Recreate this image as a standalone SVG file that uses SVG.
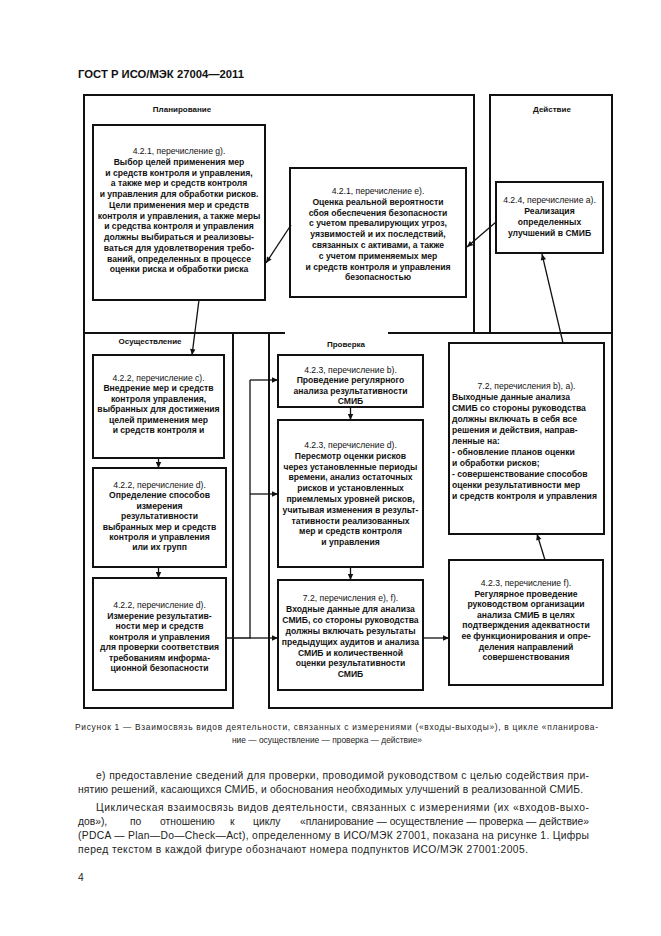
<svg xmlns="http://www.w3.org/2000/svg" width="661" height="936" viewBox="0 0 661 936">
<defs>
<style>
.fr{fill:none;stroke:#111;stroke-width:2}
.bx{fill:#fff;stroke:#111;stroke-width:2}
.t{font-family:"Liberation Sans",Arial,sans-serif;font-size:8.6px;font-weight:bold;fill:#111;text-anchor:middle}
.n{font-weight:normal}
.l{text-anchor:start}
.lbl{font-family:"Liberation Sans",Arial,sans-serif;font-size:8px;font-weight:bold;fill:#111;text-anchor:middle}
.c{stroke:#111;stroke-width:1.3;fill:none}
.a{marker-end:url(#ah)}
.body{font-family:"Liberation Sans",Arial,sans-serif;font-size:10.3px;fill:#222}
.cap{font-family:"Liberation Sans",Arial,sans-serif;font-size:8.4px;fill:#222}
</style>
<marker id="ah" viewBox="0 0 10 10" refX="10" refY="5" markerWidth="7" markerHeight="6" markerUnits="userSpaceOnUse" orient="auto"><path d="M0,0.5 L10,5 L0,9.5 z" fill="#111"/></marker>
</defs>
<rect width="661" height="936" fill="#fff"/>
<text x="78" y="78" font-family="Liberation Sans,Arial,sans-serif" font-size="10.5" font-weight="bold" fill="#111" textLength="166" lengthAdjust="spacingAndGlyphs">ГОСТ Р ИСО/МЭК 27004—2011</text>

<g id="frame-plan">
<path class="fr" d="M84,333 V95 H474 V333 M84,333 H285 M388,333 H474"/>
<text class="lbl" x="182" y="112">Планирование</text>
</g>
<g id="frame-act">
<path class="fr" d="M490,333 V95 H612 V333 M474,333 H612"/>
<text class="lbl" x="552" y="112">Действие</text>
</g>
<g id="frame-do">
<path class="fr" d="M84,333 V708 H233 V333"/>
<text class="lbl" x="150" y="344">Осуществление</text>
</g>
<g id="frame-check">
<path class="fr" d="M269,333 V708 H612 V333"/>
<text class="lbl" x="346" y="347">Проверка</text>
</g>

<g id="plan-g">
<rect class="bx" x="93" y="125" width="172" height="175"/>
<text class="t" x="179" y="154"><tspan class="n">4.2.1, перечисление g).</tspan><tspan x="179" dy="10.75">Выбор целей применения мер</tspan><tspan x="179" dy="10.75">и средств контроля и управления,</tspan><tspan x="179" dy="10.75">а также мер и средств контроля</tspan><tspan x="179" dy="10.75">и управления для обработки рисков.</tspan><tspan x="179" dy="10.75">Цели применения мер и средств</tspan><tspan x="179" dy="10.75">контроля и управления, а также меры</tspan><tspan x="179" dy="10.75">и средства контроля и управления</tspan><tspan x="179" dy="10.75">должны выбираться и реализовы-</tspan><tspan x="179" dy="10.75">ваться для удовлетворения требо-</tspan><tspan x="179" dy="10.75">ваний, определенных в процессе</tspan><tspan x="179" dy="10.75">оценки риска и обработки риска</tspan></text>
</g>

<g id="plan-e">
<rect class="bx" x="290" y="168" width="176" height="129"/>
<text class="t" x="378" y="194"><tspan class="n">4.2.1, перечисление e).</tspan><tspan x="378" dy="10.8">Оценка реальной вероятности</tspan><tspan x="378" dy="10.8">сбоя обеспечения безопасности</tspan><tspan x="378" dy="10.8">с учетом превалирующих угроз,</tspan><tspan x="378" dy="10.8">уязвимостей и их последствий,</tspan><tspan x="378" dy="10.8">связанных с активами, а также</tspan><tspan x="378" dy="10.8">с учетом применяемых мер</tspan><tspan x="378" dy="10.8">и средств контроля и управления</tspan><tspan x="378" dy="10.8">безопасностью</tspan></text>
</g>

<g id="act-a">
<rect class="bx" x="496" y="182" width="107" height="71"/>
<text class="t" x="549.5" y="203"><tspan class="n">4.2.4, перечисление а).</tspan><tspan x="549.5" dy="11">Реализация</tspan><tspan x="549.5" dy="11">определенных</tspan><tspan x="549.5" dy="11">улучшений в СМИБ</tspan></text>
</g>

<g id="do-c">
<rect class="bx" x="93" y="355" width="131" height="103"/>
<text class="t" x="158.5" y="381"><tspan class="n">4.2.2, перечисление c).</tspan><tspan x="158.5" dy="10.4">Внедрение мер и средств</tspan><tspan x="158.5" dy="10.4">контроля управления,</tspan><tspan x="158.5" dy="10.4">выбранных для достижения</tspan><tspan x="158.5" dy="10.4">целей применения мер</tspan><tspan x="158.5" dy="10.4">и средств контроля и</tspan></text>
</g>

<g id="do-d1">
<rect class="bx" x="93" y="468" width="133" height="99"/>
<text class="t" x="159.5" y="488"><tspan class="n">4.2.2, перечисление d).</tspan><tspan x="159.5" dy="10.4">Определение способов</tspan><tspan x="159.5" dy="10.4">измерения</tspan><tspan x="159.5" dy="10.4">результативности</tspan><tspan x="159.5" dy="10.4">выбранных мер и средств</tspan><tspan x="159.5" dy="10.4">контроля и управления</tspan><tspan x="159.5" dy="10.4">или их групп</tspan></text>
</g>

<g id="do-d2">
<rect class="bx" x="93" y="578" width="133" height="112"/>
<text class="t" x="159.5" y="608"><tspan class="n">4.2.2, перечисление d).</tspan><tspan x="159.5" dy="10.5">Измерение результатив-</tspan><tspan x="159.5" dy="10.5">ности мер и средств</tspan><tspan x="159.5" dy="10.5">контроля и управления</tspan><tspan x="159.5" dy="10.5">для проверки соответствия</tspan><tspan x="159.5" dy="10.5">требованиям информа-</tspan><tspan x="159.5" dy="10.5">ционной безопасности</tspan></text>
</g>

<g id="check-b">
<rect class="bx" x="278" y="355" width="145" height="52"/>
<text class="t" x="350.5" y="373"><tspan class="n">4.2.3, перечисление b).</tspan><tspan x="350.5" dy="10.3">Проведение регулярного</tspan><tspan x="350.5" dy="10.3">анализа результативности</tspan><tspan x="350.5" dy="10.3">СМИБ</tspan></text>
</g>

<g id="check-d">
<rect class="bx" x="278" y="420" width="145" height="147"/>
<text class="t" x="350.5" y="448"><tspan class="n">4.2.3, перечисление d).</tspan><tspan x="350.5" dy="10.8">Пересмотр оценки рисков</tspan><tspan x="350.5" dy="10.8">через установленные периоды</tspan><tspan x="350.5" dy="10.8">времени, анализ остаточных</tspan><tspan x="350.5" dy="10.8">рисков и установленных</tspan><tspan x="350.5" dy="10.8">приемлемых уровней рисков,</tspan><tspan x="350.5" dy="10.8">учитывая изменения в результ-</tspan><tspan x="350.5" dy="10.8">тативности реализованных</tspan><tspan x="350.5" dy="10.8">мер и средств контроля</tspan><tspan x="350.5" dy="10.8">и управления</tspan></text>
</g>

<g id="check-ef">
<rect class="bx" x="278" y="580" width="145" height="110"/>
<text class="t" x="350.5" y="601"><tspan class="n">7.2, перечисления e), f).</tspan><tspan x="350.5" dy="10.9">Входные данные для анализа</tspan><tspan x="350.5" dy="10.9">СМИБ, со стороны руководства</tspan><tspan x="350.5" dy="10.9">должны включать результаты</tspan><tspan x="350.5" dy="10.9">предыдущих аудитов и анализа</tspan><tspan x="350.5" dy="10.9">СМИБ и количественной</tspan><tspan x="350.5" dy="10.9">оценки результативности</tspan><tspan x="350.5" dy="10.9">СМИБ</tspan></text>
</g>

<g id="check-ba">
<rect class="bx" x="449" y="343" width="155" height="191"/>
<text class="t l" x="452" y="389"><tspan class="n" x="526.5" style="text-anchor:middle">7.2, перечисления b), a).</tspan><tspan x="452" dy="11">Выходные данные анализа</tspan><tspan x="452" dy="11">СМИБ со стороны руководства</tspan><tspan x="452" dy="11">должны включать в себя все</tspan><tspan x="452" dy="11">решения и действия, направ-</tspan><tspan x="452" dy="11">ленные на:</tspan><tspan x="452" dy="11">- обновление планов оценки</tspan><tspan x="452" dy="11">и обработки рисков;</tspan><tspan x="452" dy="11">- совершенствование способов</tspan><tspan x="452" dy="11">оценки результативности мер</tspan><tspan x="452" dy="11">и средств контроля и управления</tspan></text>
</g>

<g id="check-f">
<rect class="bx" x="449" y="560" width="154" height="125"/>
<text class="t" x="526" y="586"><tspan class="n">4.2.3, перечисление f).</tspan><tspan x="526" dy="10.6">Регулярное проведение</tspan><tspan x="526" dy="10.6">руководством организации</tspan><tspan x="526" dy="10.6">анализа СМИБ в целях</tspan><tspan x="526" dy="10.6">подтверждения адекватности</tspan><tspan x="526" dy="10.6">ее функционирования и опре-</tspan><tspan x="526" dy="10.6">деления направлений</tspan><tspan x="526" dy="10.6">совершенствования</tspan></text>
</g>

<g id="connectors">
<path class="c a" d="M199,300 L192,355"/>
<path class="c a" d="M291,225 L266,263"/>
<path class="c a" d="M496,222 L467,247"/>
<path class="c a" d="M563,343 L542,254"/>
<path class="c a" d="M158.5,458 V468"/>
<path class="c a" d="M158.5,567 V578"/>
<path class="c" d="M226,638 H250 V380"/>
<path class="c a" d="M250,380 H278"/>
<path class="c a" d="M250,494 H278"/>
<path class="c a" d="M250,638 H278"/>
<path class="c a" d="M350.5,407 V420"/>
<path class="c a" d="M350.5,567 V580"/>
<path class="c a" d="M423,638 H449"/>
<path class="c a" d="M545,560 L537,534"/>
</g>

<text class="cap" x="75" y="730" textLength="523" lengthAdjust="spacing">Рисунок  1 — Взаимосвязь видов деятельности, связанных с измерениями («входы-выходы»), в цикле «планирова-</text>
<text class="cap" x="327" y="743" text-anchor="middle">ние — осуществление — проверка — действие»</text>

<text class="body" x="96" y="779" textLength="493" lengthAdjust="spacing">е)  предоставление сведений для проверки, проводимой руководством с целью содействия при-</text>
<text class="body" x="78" y="793" textLength="505" lengthAdjust="spacing">нятию решений, касающихся СМИБ, и обоснования необходимых улучшений в реализованной СМИБ.</text>
<text class="body" x="96" y="811" textLength="493" lengthAdjust="spacing">Циклическая взаимосвязь видов деятельности, связанных с измерениями (их «входов-выхо-</text>
<text class="body" y="825"><tspan x="78">дов»),</tspan><tspan x="130">по</tspan><tspan x="160">отношению</tspan><tspan x="230">к</tspan><tspan x="253">циклу</tspan><tspan x="300" textLength="289" lengthAdjust="spacing">«планирование — осуществление — проверка — действие»</tspan></text>
<text class="body" x="78" y="839" textLength="511" lengthAdjust="spacing">(PDCA — Plan—Do—Check—Act), определенному в ИСО/МЭК 27001, показана на рисунке 1. Цифры</text>
<text class="body" x="78" y="853" textLength="450" lengthAdjust="spacing">перед текстом в каждой фигуре обозначают номера подпунктов ИСО/МЭК 27001:2005.</text>
<text class="body" x="78" y="881" font-size="9">4</text>
</svg>
